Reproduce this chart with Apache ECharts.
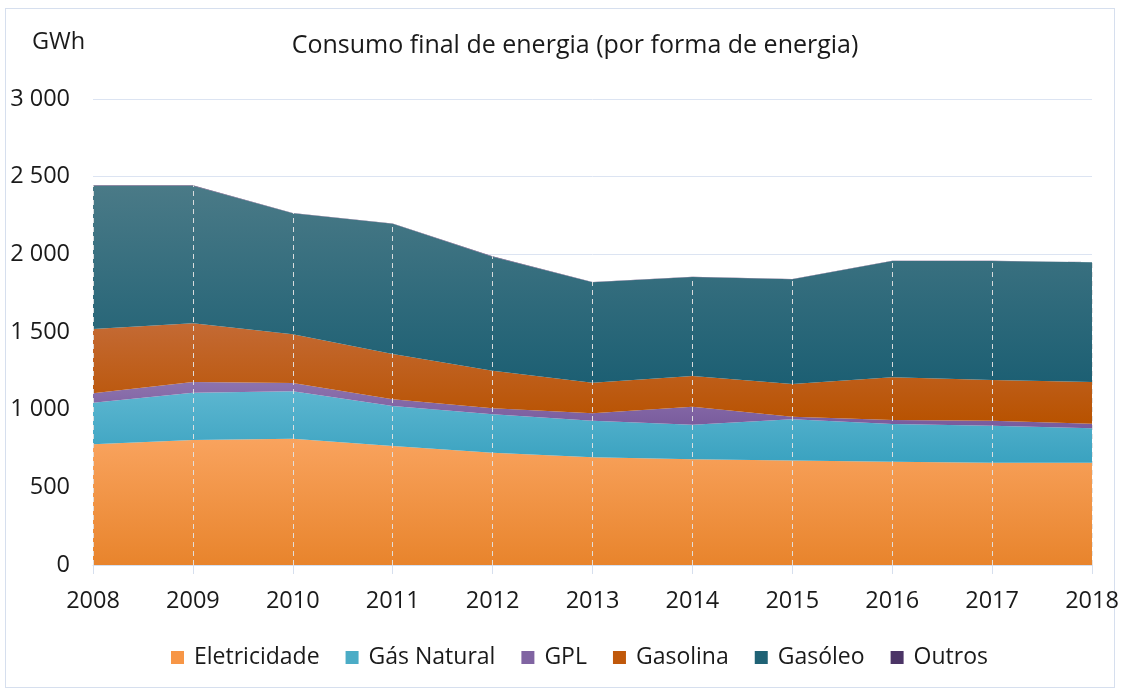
<!DOCTYPE html>
<html>
<head>
<meta charset="utf-8">
<script src="https://cdn.jsdelivr.net/npm/echarts@6/dist/echarts.min.js"></script>
<style>
html,body{margin:0;padding:0;background:#fff;}
#frame{position:absolute;left:5px;top:8px;width:1110px;height:680px;border:1px solid #d6dfee;box-sizing:border-box;}
#main{position:absolute;left:0;top:0;width:1122px;height:691px;}
</style>
</head>
<body>
<div id="frame"></div>
<div id="main"></div>
<script>
var anos = ['2008','2009','2010','2011','2012','2013','2014','2015','2016','2017','2018'];
var eletricidade = [777, 805, 813, 766, 723, 693, 680, 672, 665, 659, 659];
var gasNatural   = [268, 304, 305, 258, 247, 236, 223, 266, 243, 238, 221];
var gpl          = [60, 69, 54, 43, 39, 48, 116, 17, 26, 32, 30];
var gasolina     = [414, 378, 313, 291, 242, 197, 198, 210, 274, 262, 268];
var gasoleo      = [923, 886, 779, 839, 734, 646, 637, 674, 749, 766, 771];
var outros       = [2, 2, 2, 2, 2, 2, 2, 2, 2, 2, 2];

function grad(top, bottom){
    return {type:'linear', x:0, y:0, x2:0, y2:1,
        colorStops:[{offset:0, color:top},{offset:1, color:bottom}]};
}

function serie(nome, dados, cor, topo, fundo){
    return {
        name: nome,
        type: 'line',
        stack: 'total',
        data: dados,
        symbol: 'none',
        lineStyle: {width: 0},
        itemStyle: {color: cor},
        areaStyle: {color: grad(topo, fundo), opacity: 1},
        emphasis: {disabled: true}
    };
}

// linhas verticais tracejadas do eixo ate ao topo da pilha
var linhas = anos.map(function(a, i){
    var total = eletricidade[i] + gasNatural[i] + gpl[i] + gasolina[i] + gasoleo[i] + outros[i];
    return [{coord: [i, 0]}, {coord: [i, total]}];
});

var font = 'Open Sans';
var myChart = echarts.init(document.getElementById('main'));
var topo = serie('Outros', outros, '#4b3466', '#4b3466', '#4b3466');
topo.markLine = {
    silent: true,
    symbol: 'none',
    label: {show: false},
    lineStyle: {color: 'rgba(225,225,225,0.95)', type: [5,4], width: 1},
    data: linhas
};
var option = {
    animation: false,
    textStyle: {fontFamily: font},
    title: {
        text: 'Consumo final de energia (por forma de energia)',
        left: 570, top: 28, textAlign: 'center',
        textStyle: {fontFamily: font, fontSize: 25, fontWeight: 'normal', color: '#1a1a1a'}
    },
    graphic: [{
        type: 'text', left: 32, top: 30,
        style: {text: 'GWh', font: '23.5px "Open Sans"', fill: '#1a1a1a'}
    }],
    legend: {
        bottom: 17, left: 166,
        icon: 'rect', itemWidth: 13, itemHeight: 13, itemGap: 26,
        textStyle: {fontFamily: font, fontSize: 23, color: '#1a1a1a', padding: [0, 0, 0, 5]},
        data: ['Eletricidade','Gás Natural','GPL','Gasolina','Gasóleo','Outros']
    },
    grid: {left: 93, right: 30, top: 99, bottom: 126},
    xAxis: {
        type: 'category',
        boundaryGap: false,
        data: anos,
        axisLine: {lineStyle: {color: '#d6dfee', width: 1}},
        axisTick: {show: true, length: 9, lineStyle: {color: '#d6dfee'}},
        axisLabel: {fontSize: 23.5, color: '#1a1a1a', margin: 24, fontFamily: font},
        splitLine: {show: false}
    },
    yAxis: {
        type: 'value',
        min: 0, max: 3000, interval: 500,
        axisLine: {show: false},
        axisTick: {show: false},
        axisLabel: {
            fontSize: 23.5, color: '#1a1a1a', margin: 23, fontFamily: font,
            formatter: function(v){ return v >= 1000 ? Math.floor(v/1000) + ' ' + String(v%1000).padStart(3,'0') : String(v); }
        },
        splitLine: {lineStyle: {color: '#dce4f2', width: 1}}
    },
    series: [
        serie('Eletricidade', eletricidade, '#f79646', '#f9a35e', '#e8842c'),
        serie('Gás Natural', gasNatural, '#4bacc6', '#5cb6d0', '#3aa2c0'),
        serie('GPL', gpl, '#8064a2', '#8d73ae', '#785a9c'),
        serie('Gasolina', gasolina, '#c0580a', '#c46a34', '#b85200'),
        serie('Gasóleo', gasoleo, '#1f6275', '#4a7a87', '#1c5f73'),
        topo
    ]
};
myChart.setOption(option);
</script>
</body>
</html>
